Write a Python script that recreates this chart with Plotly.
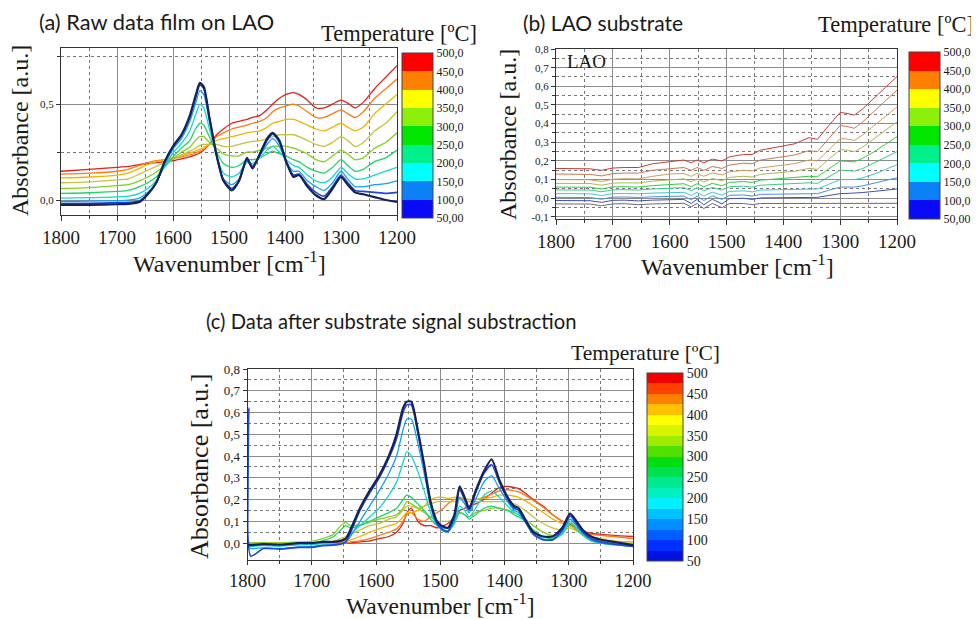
import plotly.graph_objects as go

# ---------------- data ----------------
TEMPS = [50, 100, 150, 200, 250, 300, 350, 400, 450, 500]

# (a) raw data film on LAO
WN_A = [1800, 1750, 1700, 1680, 1660, 1645, 1630, 1615, 1600, 1585, 1570, 1560, 1552, 1545,
        1535, 1522, 1510, 1495, 1482, 1468, 1458, 1445, 1432, 1422, 1410, 1398, 1385, 1375,
        1360, 1345, 1330, 1315, 1300, 1288, 1275, 1260, 1240, 1220, 1200]
A_T050 = [-0.025, -0.025, -0.022, -0.02, -0.01, 0.03, 0.09, 0.20, 0.28, 0.34, 0.44, 0.54, 0.61, 0.59,
          0.43, 0.23, 0.10, 0.05, 0.10, 0.22, 0.165, 0.24, 0.32, 0.35, 0.31, 0.20, 0.12, 0.13,
          0.07, 0.025, 0.005, 0.06, 0.12, 0.08, 0.04, 0.03, 0.015, 0.0, -0.01]
A_T100 = [-0.018, -0.017, -0.014, -0.012, -0.005, 0.032, 0.09, 0.195, 0.275, 0.335, 0.43, 0.53, 0.60, 0.58,
          0.43, 0.23, 0.105, 0.06, 0.10, 0.21, 0.17, 0.235, 0.31, 0.345, 0.30, 0.20, 0.13, 0.135,
          0.08, 0.04, 0.02, 0.07, 0.13, 0.09, 0.05, 0.045, 0.04, 0.035, 0.04]
A_T150 = [-0.008, -0.006, -0.003, 0.0, 0.01, 0.04, 0.09, 0.185, 0.265, 0.32, 0.41, 0.50, 0.57, 0.55,
          0.41, 0.23, 0.11, 0.08, 0.11, 0.20, 0.18, 0.23, 0.29, 0.32, 0.28, 0.20, 0.15, 0.15,
          0.10, 0.07, 0.05, 0.09, 0.15, 0.11, 0.07, 0.07, 0.08, 0.085, 0.10]
A_T200 = [0.01, 0.012, 0.016, 0.02, 0.035, 0.06, 0.10, 0.175, 0.245, 0.295, 0.36, 0.44, 0.50, 0.48,
          0.37, 0.23, 0.14, 0.12, 0.14, 0.20, 0.19, 0.22, 0.26, 0.28, 0.25, 0.21, 0.18, 0.17,
          0.13, 0.10, 0.09, 0.12, 0.17, 0.14, 0.11, 0.11, 0.13, 0.15, 0.17]
A_T250 = [0.035, 0.038, 0.045, 0.05, 0.07, 0.09, 0.12, 0.17, 0.225, 0.27, 0.31, 0.37, 0.40, 0.39,
          0.33, 0.25, 0.19, 0.17, 0.18, 0.21, 0.21, 0.22, 0.24, 0.255, 0.24, 0.23, 0.21, 0.20,
          0.17, 0.15, 0.14, 0.17, 0.21, 0.18, 0.15, 0.16, 0.20, 0.22, 0.26]
A_T300 = [0.06, 0.065, 0.075, 0.08, 0.10, 0.12, 0.145, 0.18, 0.215, 0.25, 0.275, 0.31, 0.33, 0.33,
          0.30, 0.27, 0.24, 0.23, 0.23, 0.25, 0.25, 0.26, 0.27, 0.28, 0.28, 0.28, 0.27, 0.26,
          0.24, 0.21, 0.20, 0.23, 0.26, 0.24, 0.21, 0.22, 0.27, 0.30, 0.35]
A_T350 = [0.09, 0.095, 0.105, 0.11, 0.135, 0.155, 0.175, 0.195, 0.215, 0.235, 0.255, 0.27, 0.285, 0.29,
          0.29, 0.29, 0.28, 0.28, 0.29, 0.30, 0.305, 0.31, 0.32, 0.33, 0.34, 0.34, 0.34, 0.33,
          0.31, 0.29, 0.28, 0.30, 0.33, 0.31, 0.28, 0.30, 0.36, 0.40, 0.46]
A_T400 = [0.115, 0.12, 0.13, 0.14, 0.165, 0.185, 0.20, 0.21, 0.22, 0.23, 0.245, 0.255, 0.265, 0.275,
          0.29, 0.31, 0.32, 0.33, 0.34, 0.35, 0.355, 0.36, 0.38, 0.40, 0.41, 0.42, 0.42, 0.41,
          0.39, 0.37, 0.36, 0.38, 0.40, 0.38, 0.36, 0.38, 0.45, 0.50, 0.55]
A_T450 = [0.135, 0.14, 0.15, 0.16, 0.18, 0.195, 0.205, 0.21, 0.215, 0.225, 0.235, 0.245, 0.255, 0.265,
          0.29, 0.33, 0.35, 0.37, 0.38, 0.39, 0.40, 0.41, 0.43, 0.46, 0.48, 0.49, 0.50, 0.49,
          0.46, 0.43, 0.43, 0.45, 0.47, 0.45, 0.43, 0.46, 0.53, 0.58, 0.63]
A_T500 = [0.15, 0.16, 0.17, 0.175, 0.185, 0.19, 0.195, 0.20, 0.205, 0.215, 0.225, 0.235, 0.245, 0.26,
          0.29, 0.34, 0.37, 0.40, 0.41, 0.42, 0.43, 0.44, 0.47, 0.50, 0.53, 0.55, 0.56, 0.55,
          0.52, 0.48, 0.48, 0.50, 0.52, 0.505, 0.48, 0.51, 0.58, 0.64, 0.70]

# (b) LAO substrate
WN_B = [1800, 1770, 1740, 1720, 1700, 1680, 1655, 1630, 1600, 1575, 1562, 1552, 1540, 1525, 1508,
        1495, 1470, 1455, 1440, 1410, 1380, 1355, 1340, 1320, 1300, 1288, 1275, 1260, 1240, 1220, 1200]
B_T500 = [0.160, 0.158, 0.158, 0.150, 0.162, 0.165, 0.165, 0.185, 0.198, 0.205, 0.19, 0.205, 0.19, 0.21, 0.20,
          0.222, 0.235, 0.235, 0.258, 0.275, 0.292, 0.325, 0.316, 0.39, 0.46, 0.455, 0.446, 0.48, 0.54, 0.595, 0.652]
B_T450 = [0.13, 0.128, 0.128, 0.12, 0.132, 0.135, 0.135, 0.15, 0.16, 0.165, 0.15, 0.165, 0.15, 0.17, 0.16,
          0.178, 0.188, 0.185, 0.205, 0.218, 0.232, 0.255, 0.25, 0.32, 0.39, 0.385, 0.375, 0.41, 0.465, 0.52, 0.58]
B_T400 = [0.10, 0.099, 0.099, 0.09, 0.102, 0.105, 0.104, 0.118, 0.13, 0.133, 0.118, 0.133, 0.118, 0.136, 0.125,
          0.142, 0.15, 0.147, 0.163, 0.174, 0.186, 0.205, 0.20, 0.26, 0.32, 0.318, 0.31, 0.34, 0.39, 0.44, 0.49]
B_T350 = [0.08, 0.079, 0.079, 0.07, 0.081, 0.083, 0.082, 0.092, 0.10, 0.104, 0.088, 0.104, 0.088, 0.106, 0.094,
          0.112, 0.118, 0.114, 0.128, 0.136, 0.145, 0.16, 0.155, 0.21, 0.26, 0.258, 0.25, 0.275, 0.32, 0.365, 0.41]
B_T300 = [0.06, 0.059, 0.059, 0.05, 0.061, 0.062, 0.06, 0.068, 0.075, 0.078, 0.062, 0.078, 0.062, 0.08, 0.067,
          0.085, 0.09, 0.085, 0.097, 0.103, 0.11, 0.118, 0.115, 0.16, 0.20, 0.198, 0.195, 0.215, 0.25, 0.29, 0.33]
B_T250 = [0.045, 0.044, 0.044, 0.035, 0.045, 0.046, 0.044, 0.05, 0.055, 0.057, 0.04, 0.057, 0.04, 0.058, 0.044,
          0.062, 0.065, 0.06, 0.07, 0.074, 0.078, 0.083, 0.08, 0.115, 0.15, 0.149, 0.145, 0.16, 0.19, 0.22, 0.25]
B_T200 = [0.025, 0.024, 0.024, 0.015, 0.025, 0.026, 0.024, 0.028, 0.03, 0.032, 0.015, 0.032, 0.012, 0.033, 0.017,
          0.037, 0.04, 0.034, 0.044, 0.046, 0.048, 0.052, 0.05, 0.075, 0.10, 0.10, 0.10, 0.11, 0.13, 0.155, 0.18]
B_T150 = [0.005, 0.004, 0.004, -0.005, 0.006, 0.007, 0.004, 0.008, 0.01, 0.012, -0.008, 0.012, -0.012, 0.013, -0.006,
          0.016, 0.018, 0.012, 0.021, 0.022, 0.023, 0.026, 0.025, 0.043, 0.06, 0.06, 0.06, 0.067, 0.08, 0.095, 0.11]
B_T100 = [-0.012, -0.013, -0.013, -0.022, -0.011, -0.01, -0.014, -0.01, -0.008, -0.006, -0.028, -0.006, -0.035, -0.005, -0.03,
          -0.002, 0.0, -0.006, 0.002, 0.003, 0.004, 0.006, 0.005, 0.015, 0.025, 0.026, 0.027, 0.031, 0.037, 0.044, 0.05]
B_T050 = [-0.03, -0.031, -0.031, -0.04, -0.03, -0.029, -0.034, -0.03, -0.028, -0.027, -0.045, -0.028, -0.055, -0.028, -0.05,
          -0.028, -0.028, -0.034, -0.028, -0.028, -0.028, -0.028, -0.03, -0.028, -0.028, -0.028, -0.028, -0.028, -0.028, -0.027, -0.027]

# (c) after substrate subtraction
WN_C = [1800, 1798, 1795, 1775, 1750, 1720, 1700, 1683, 1666, 1655, 1647, 1640, 1625, 1610, 1595,
        1580, 1568, 1558, 1552, 1545, 1535, 1525, 1515, 1505, 1495, 1488, 1478, 1470, 1462, 1455,
        1445, 1432, 1420, 1408, 1395, 1385, 1378, 1368, 1355, 1340, 1325, 1310, 1298, 1288, 1278,
        1265, 1250, 1230, 1200]
C_T050 = [-0.01, -0.01, -0.01, -0.005, -0.008, 0.0, 0.0, 0.005, 0.005, 0.01, 0.02, 0.06, 0.16, 0.24, 0.31,
          0.40, 0.50, 0.62, 0.65, 0.65, 0.52, 0.36, 0.19, 0.10, 0.075, 0.07, 0.13, 0.26, 0.21, 0.16,
          0.24, 0.33, 0.385, 0.29, 0.21, 0.17, 0.16, 0.11, 0.05, 0.03, 0.03, 0.07, 0.135, 0.10, 0.06,
          0.03, 0.015, 0.005, -0.01]
C_T100 = [-0.03, 0.62, -0.06, -0.025, -0.028, -0.02, -0.02, -0.012, -0.01, -0.005, 0.005, 0.045, 0.15, 0.23, 0.30,
          0.39, 0.48, 0.60, 0.635, 0.635, 0.51, 0.35, 0.18, 0.09, 0.06, 0.055, 0.12, 0.245, 0.20, 0.15,
          0.23, 0.32, 0.36, 0.28, 0.20, 0.16, 0.15, 0.10, 0.04, 0.015, 0.015, 0.06, 0.125, 0.09, 0.05,
          0.02, 0.005, -0.005, -0.015]
C_T150 = [-0.02, -0.02, -0.025, -0.022, -0.025, -0.018, -0.017, -0.01, -0.008, -0.003, 0.005, 0.03, 0.10, 0.17, 0.24,
          0.32, 0.40, 0.52, 0.57, 0.57, 0.46, 0.32, 0.17, 0.085, 0.055, 0.05, 0.10, 0.21, 0.18, 0.14,
          0.20, 0.28, 0.31, 0.25, 0.19, 0.15, 0.14, 0.10, 0.04, 0.015, 0.015, 0.055, 0.11, 0.08, 0.045,
          0.015, 0.0, -0.008, -0.015]
C_T200 = [-0.01, -0.01, -0.015, -0.012, -0.015, -0.008, -0.008, -0.003, 0.0, 0.01, 0.02, 0.04, 0.08, 0.12, 0.16,
          0.22, 0.28, 0.37, 0.42, 0.40, 0.33, 0.24, 0.14, 0.08, 0.06, 0.055, 0.09, 0.17, 0.15, 0.12,
          0.16, 0.22, 0.24, 0.21, 0.17, 0.14, 0.13, 0.10, 0.05, 0.02, 0.015, 0.045, 0.10, 0.07, 0.04,
          0.01, 0.0, -0.005, -0.01]
C_T250 = [0.0, 0.0, -0.005, -0.002, -0.005, 0.0, 0.002, 0.01, 0.03, 0.06, 0.08, 0.07, 0.08, 0.10, 0.12,
          0.14, 0.16, 0.20, 0.22, 0.21, 0.18, 0.15, 0.11, 0.08, 0.07, 0.07, 0.09, 0.14, 0.13, 0.11,
          0.13, 0.16, 0.17, 0.16, 0.15, 0.13, 0.12, 0.10, 0.06, 0.03, 0.02, 0.04, 0.09, 0.065, 0.035,
          0.01, 0.0, -0.005, -0.008]
C_T300 = [0.005, 0.005, 0.0, 0.002, 0.0, 0.005, 0.008, 0.02, 0.04, 0.08, 0.095, 0.08, 0.085, 0.095, 0.11,
          0.12, 0.13, 0.16, 0.19, 0.18, 0.16, 0.14, 0.12, 0.10, 0.10, 0.10, 0.11, 0.14, 0.13, 0.12,
          0.14, 0.15, 0.16, 0.16, 0.15, 0.14, 0.13, 0.11, 0.08, 0.05, 0.035, 0.05, 0.09, 0.07, 0.04,
          0.015, 0.005, 0.0, -0.005]
C_T350 = [0.0, 0.0, 0.0, 0.0, 0.0, 0.0, 0.0, 0.005, 0.01, 0.02, 0.03, 0.04, 0.06, 0.08, 0.09,
          0.11, 0.12, 0.15, 0.17, 0.17, 0.16, 0.17, 0.18, 0.19, 0.19, 0.19, 0.19, 0.20, 0.19, 0.19,
          0.19, 0.19, 0.19, 0.19, 0.19, 0.18, 0.17, 0.15, 0.12, 0.09, 0.07, 0.06, 0.07, 0.055, 0.04,
          0.02, 0.01, 0.005, 0.0]
C_T400 = [0.0, 0.0, 0.0, 0.0, 0.0, 0.0, 0.0, 0.0, 0.0, 0.005, 0.01, 0.015, 0.03, 0.05, 0.065,
          0.08, 0.09, 0.12, 0.14, 0.14, 0.15, 0.17, 0.20, 0.21, 0.21, 0.205, 0.21, 0.21, 0.205, 0.20,
          0.20, 0.205, 0.21, 0.22, 0.22, 0.215, 0.21, 0.195, 0.17, 0.14, 0.11, 0.09, 0.08, 0.06, 0.045,
          0.03, 0.02, 0.01, 0.005]
C_T450 = [0.0, 0.0, 0.0, 0.0, 0.0, 0.0, 0.0, 0.0, 0.0, 0.0, 0.0, 0.005, 0.01, 0.02, 0.035,
          0.05, 0.065, 0.10, 0.13, 0.14, 0.11, 0.10, 0.12, 0.14, 0.16, 0.18, 0.20, 0.205, 0.20, 0.20,
          0.20, 0.21, 0.225, 0.24, 0.245, 0.24, 0.235, 0.22, 0.195, 0.165, 0.13, 0.10, 0.08, 0.065, 0.05,
          0.04, 0.035, 0.03, 0.02]
C_T500 = [0.0, 0.0, 0.0, 0.0, 0.0, 0.0, 0.0, 0.0, 0.0, 0.0, 0.0, 0.0, 0.005, 0.01, 0.02,
          0.03, 0.05, 0.09, 0.14, 0.16, 0.10, 0.08, 0.08, 0.07, 0.08, 0.09, 0.12, 0.15, 0.16, 0.17,
          0.18, 0.20, 0.23, 0.255, 0.26, 0.255, 0.25, 0.23, 0.20, 0.17, 0.13, 0.10, 0.085, 0.07, 0.055,
          0.045, 0.04, 0.035, 0.03]

X_TICKS = [1800, 1700, 1600, 1500, 1400, 1300, 1200]
X_MINOR = [1750, 1650, 1550, 1450, 1350, 1250]
CB_TICKS = [50, 100, 150, 200, 250, 300, 350, 400, 450, 500]
CB_TEXT_AB = ["50,00", "100,0", "150,0", "200,0", "250,0", "300,0", "350,0", "400,0", "450,0", "500,0"]
CB_TEXT_C = ["50", "100", "150", "200", "250", "300", "350", "400", "450", "500"]

SPEC_A = dict(zip(TEMPS, [A_T050, A_T100, A_T150, A_T200, A_T250, A_T300, A_T350, A_T400, A_T450, A_T500]))
SPEC_B = dict(zip(TEMPS, [B_T050, B_T100, B_T150, B_T200, B_T250, B_T300, B_T350, B_T400, B_T450, B_T500]))
SPEC_C = dict(zip(TEMPS, [C_T050, C_T100, C_T150, C_T200, C_T250, C_T300, C_T350, C_T400, C_T450, C_T500]))

# ---------------- styles ----------------
SERIF = "Liberation Serif"
SANS = "Lato"
INK = "#1a1a1a"
W, H = 979, 619
OFF = 8  # the page body adds an 8 px margin around the figure

LINE_AC = {50: '#16215a', 100: '#1f47d8', 150: '#0ea2f0', 200: '#18d6cc', 250: '#20d46a',
           300: '#84cf22', 350: '#c6c23c', 400: '#f2b300', 450: '#ff7a12', 500: '#e2201c'}
LINE_B = {50: '#6a6a7a', 100: '#3f4fb8', 150: '#4a8ee0', 200: '#40c8c8', 250: '#3cc88a',
          300: '#2ecf3a', 350: '#a9b95c', 400: '#c9a060', 450: '#c87850', 500: '#c63c3c'}
WIDTH_AC = {50: 2.2, 100: 1.7}

BANDS9 = ['#0a0af5', '#0a82f5', '#00ffff', '#00f08c', '#00e600', '#8cf00a', '#ffff00', '#ff8000', '#ff0000']
BANDS18 = ['#0010e0', '#0030ff', '#0060ff', '#0090ff', '#00c0ff', '#00f0ff', '#00f0c0', '#00e890', '#00e050',
           '#00dd10', '#50e000', '#a0eb00', '#d8f500', '#ffff00', '#ffc000', '#ff8000', '#ff4000', '#f00000']


def discrete(colors):
    n = len(colors)
    cs = []
    for i, c in enumerate(colors):
        cs.append([i / n, c])
        cs.append([(i + 1) / n, c])
    return cs


def px_x(p):
    return (p - OFF) / W


def px_y(p):
    return 1 - (p - OFF) / H


fig = go.Figure()

panels = [
    ('x', 'y', WN_A, SPEC_A, LINE_AC, 'spline', 1.3, WIDTH_AC),
    ('x2', 'y2', WN_B, SPEC_B, LINE_B, 'linear', 1.0, {}),
    ('x3', 'y3', WN_C, SPEC_C, LINE_AC, 'spline', 1.3, WIDTH_AC),
]
for xa, ya, wn, spec, cols, shape, lw, wmap in panels:
    for T in reversed(TEMPS):
        fig.add_trace(go.Scatter(
            x=wn, y=spec[T], xaxis=xa, yaxis=ya, mode='lines',
            line=dict(color=cols[T], width=wmap.get(T, lw), shape=shape, smoothing=0.6),
            hoverinfo='skip', showlegend=False))

# colour bars
cbars = [
    ('x', 'y', BANDS9, CB_TEXT_AB, 402, 53, 165, 31, 12),
    ('x2', 'y2', BANDS9, CB_TEXT_AB, 909, 52, 167, 31, 12),
    ('x3', 'y3', BANDS18, CB_TEXT_C, 647, 373, 188, 36, 14),
]
for xa, ya, bands, ttext, left, top, length, thick, fs in cbars:
    fig.add_trace(go.Scatter(
        x=[None, None], y=[None, None], xaxis=xa, yaxis=ya, mode='markers',
        marker=dict(color=[50, 500], cmin=50, cmax=500, colorscale=discrete(bands), showscale=True,
                    colorbar=dict(x=px_x(left), xanchor='left', y=px_y(top), yanchor='top',
                                  len=length, lenmode='pixels', thickness=thick, thicknessmode='pixels',
                                  xpad=0, ypad=0, outlinewidth=1, outlinecolor='#444',
                                  tickmode='array', tickvals=CB_TICKS, ticktext=ttext, ticks='',
                                  tickfont=dict(family=SERIF, size=fs, color=INK))),
        hoverinfo='skip', showlegend=False))


def xaxis(domain, anchor, fs, tl=5):
    return dict(domain=domain, anchor=anchor, range=[1800, 1200], tickmode='array', automargin=False,
                tickvals=X_TICKS, ticktext=[str(v) for v in X_TICKS], ticks='outside', ticklen=tl,
                tickcolor='#333', tickfont=dict(family=SERIF, size=fs, color=INK),
                showgrid=True, gridcolor='#8c8c8c', gridwidth=1, zeroline=False,
                showline=True, mirror=True, linecolor='#333', linewidth=1,
                minor=dict(tickvals=X_MINOR, ticks='outside', ticklen=3, tickcolor='#333',
                           showgrid=True, gridcolor='#777', griddash='dot', gridwidth=1))


def yaxis(domain, anchor, rng, vals, texts, minor, fs):
    return dict(domain=domain, anchor=anchor, range=rng, tickmode='array', tickvals=vals, automargin=False,
                ticktext=texts, ticks='outside', ticklen=4, tickcolor='#333',
                tickfont=dict(family=SERIF, size=fs, color=INK),
                showgrid=True, gridcolor='#8c8c8c', gridwidth=1, zeroline=False,
                showline=True, mirror=True, linecolor='#333', linewidth=1,
                minor=dict(tickvals=minor, ticks='outside', ticklen=3, tickcolor='#333',
                           showgrid=True, gridcolor='#777', griddash='dot', gridwidth=1))


YB_VALS = [-0.1, 0.0, 0.1, 0.2, 0.3, 0.4, 0.5, 0.6, 0.7, 0.8]
YB_TEXT = ['-0,1', '0,0', '0,1', '0,2', '0,3', '0,4', '0,5', '0,6', '0,7', '0,8']
YB_MINOR = [-0.05, 0.05, 0.15, 0.25, 0.35, 0.45, 0.55, 0.65, 0.75]

fig.update_layout(
    width=W, height=H, margin=dict(l=0, r=0, t=0, b=0, pad=0, autoexpand=False),
    paper_bgcolor='white', plot_bgcolor='white', showlegend=False,
    xaxis=xaxis([px_x(61), px_x(397)], 'y', 19),
    yaxis=yaxis([px_y(215), px_y(48)], 'x', [-0.078, 0.792], [0.0, 0.5], ['0,0', '0,5'], [0.25, 0.75], 11),
    xaxis2=xaxis([px_x(556), px_x(897)], 'y2', 19),
    yaxis2=yaxis([px_y(219), px_y(49)], 'x2', [-0.111, 0.8], YB_VALS, YB_TEXT, YB_MINOR, 11),
    xaxis3=xaxis([px_x(247.5), px_x(633)], 'y3', 18.5, 4),
    yaxis3=yaxis([px_y(560), px_y(369)], 'x3', [-0.078, 0.8], YB_VALS[1:], YB_TEXT[1:], YB_MINOR[1:], 13),
)

ann = []


def text(s, x, y, size, family=SERIF, xanchor='center', angle=0):
    ann.append(dict(text=s, x=px_x(x), y=px_y(y), xref='paper', yref='paper', showarrow=False,
                    xanchor=xanchor, yanchor='middle', textangle=angle,
                    font=dict(family=family, size=size, color=INK)))


# titles
text("(a) Raw data film on LAO", 37, 21, 21.8, SANS, 'left')
text("(b) LAO substrate", 521, 23, 21, SANS, 'left')
text("(c) Data after substrate signal substraction", 204, 321, 20.2, SANS, 'left')
# colour bar titles
text("Temperature [ºC]", 479, 33, 22.5, SERIF, 'right')
text("Temperature [ºC]", 976, 25, 22.5, SERIF, 'right')
text("Temperature [ºC]", 722, 353, 21.5, SERIF, 'right')
# axis titles
text("Wavenumber [cm<sup>-1</sup>]", 229, 262, 24)
text("Wavenumber [cm<sup>-1</sup>]", 737, 265, 24)
text("Wavenumber [cm<sup>-1</sup>]", 440, 604, 23.5)
text("Absorbance [a.u.]", 20, 131, 24, angle=-90)
text("Absorbance [a.u.]", 508, 134, 24, angle=-90)
text("Absorbance [a.u.]", 199, 466, 26, angle=-90)
# substrate label
text("LAO", 565, 61, 19, SERIF, 'left')

fig.update_layout(annotations=ann)
fig.write_html("out.html")
